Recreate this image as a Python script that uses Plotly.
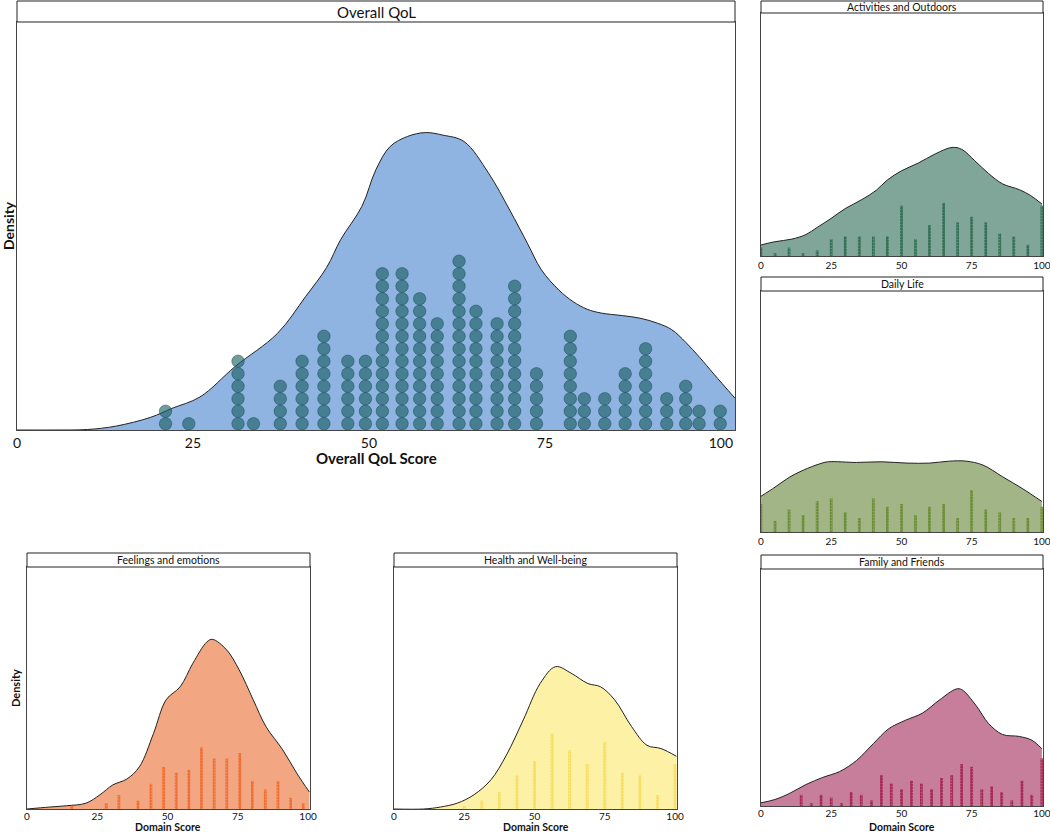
import plotly.graph_objects as go

W, H = 1050, 832
FONT = "Lato"

# ---------------- Overall QoL (big panel) ----------------
# kde outline
qol_x = [0, 5, 10, 14, 19, 22, 26, 31, 37, 41, 44, 46, 49, 51, 53, 55.5, 58, 60.5,
         63.5, 67, 70, 72.5, 74.5, 77, 79, 81, 83, 86, 88.5, 91, 93, 95, 97, 99, 102]
qol_density = [0, 0, 0.00004, 0.0003, 0.0010, 0.0017, 0.0026, 0.0050, 0.0076, 0.0105,
               0.0128, 0.0150, 0.0176, 0.0205, 0.0223, 0.0231, 0.0234, 0.0232, 0.0227,
               0.0202, 0.0173, 0.0147, 0.0126, 0.0110, 0.0101, 0.0095, 0.0092, 0.0090,
               0.0088, 0.0084, 0.0079, 0.0069, 0.0057, 0.0044, 0.0025]
# dot plot columns (score, number of children)
qol_scores = [21.1, 24.4, 31.4, 33.6, 37.4, 40.5, 43.6, 47.0, 49.5, 51.9, 54.7, 57.2, 59.7,
              62.8, 65.2, 68.2, 70.7, 73.8, 78.6, 80.6, 83.5, 86.4, 89.3, 92.3, 95.0, 96.9, 99.9]
qol_counts = [2, 1, 6, 1, 4, 6, 8, 6, 6, 13, 13, 11, 9, 14, 10, 9, 12, 5, 8, 3, 3, 5, 7, 3, 4, 2, 2]

# ---------------- domain panels ----------------
act_x = [0, 5, 11, 16, 20, 25, 30, 36, 41, 45, 50, 56, 62, 68, 71.5, 76, 81, 86, 92, 96, 100]
act_density = [0.0017, 0.0022, 0.0026, 0.0033, 0.0044, 0.0058, 0.0073, 0.0087, 0.0101, 0.0117,
               0.0131, 0.0143, 0.0157, 0.0167, 0.0164, 0.0147, 0.0127, 0.0111, 0.0102, 0.0093, 0.0080]
act_scores = [0, 5, 10, 15, 20, 25, 30, 35, 40, 45, 50, 55, 60, 65, 70, 75, 80, 85, 90, 95, 100]
act_counts = [3, 1, 3, 1, 2, 6, 7, 7, 7, 7, 18, 6, 11, 19, 12, 14, 12, 8, 7, 4, 18]

daily_x = [0, 5, 10, 15, 21, 24, 34, 43, 52, 60, 67, 73, 79, 86, 93, 100]
daily_density = [0.0055, 0.0069, 0.0084, 0.0095, 0.0105, 0.0108, 0.0107, 0.0108, 0.0106,
                 0.0106, 0.0109, 0.0109, 0.0103, 0.0085, 0.0067, 0.0047]
daily_scores = [0, 5, 10, 15, 20, 25, 30, 35, 40, 45, 50, 55, 60, 65, 70, 75, 80, 85, 90, 95, 100]
daily_counts = [10, 4, 8, 6, 11, 12, 7, 5, 12, 9, 10, 6, 9, 10, 5, 15, 8, 7, 5, 5, 9]

fam_x = [0, 5, 10, 16, 22, 28, 34, 40, 45.5, 51.5, 57.5, 63.5, 69.5, 71.5, 76.5, 81, 86, 92, 96.5, 100]
fam_density = [0.0005, 0.0010, 0.0019, 0.0033, 0.0044, 0.0053, 0.0070, 0.0096, 0.0119, 0.0132,
               0.0143, 0.0163, 0.0180, 0.0179, 0.0155, 0.0127, 0.0110, 0.0107, 0.0101, 0.0088]
fam_scores = [14.3, 17.9, 21.4, 25.0, 28.6, 32.1, 35.7, 39.3, 42.9, 46.4, 50.0, 53.6, 57.1,
              60.7, 64.3, 67.9, 71.4, 75.0, 78.6, 82.1, 85.7, 89.3, 92.9, 96.4, 100.0]
fam_counts = [4, 1, 4, 3, 1, 5, 4, 2, 11, 8, 6, 9, 8, 6, 10, 11, 15, 14, 6, 7, 5, 2, 9, 4, 17]

feel_x = [0, 8, 14, 21, 26, 30.5, 35.5, 40, 45, 49.5, 54.5, 59, 64, 66, 71, 75.5, 80.5, 85, 91, 96, 100.5]
feel_density = [0, 0.0003, 0.0005, 0.0009, 0.0022, 0.0037, 0.0046, 0.0065, 0.0116, 0.0168, 0.0188,
                0.0224, 0.0257, 0.0261, 0.0245, 0.0214, 0.0168, 0.0127, 0.0091, 0.0055, 0.0026]
feel_scores = [15.9, 28.2, 32.7, 39.5, 44.1, 48.6, 53.1, 57.6, 62.1, 66.6, 71.1, 75.7,
               80.2, 84.8, 89.3, 93.8, 98.3]
feel_counts = [1, 2, 5, 3, 9, 15, 13, 14, 22, 18, 18, 20, 10, 7, 10, 4, 2]

health_x = [0, 10.5, 16.5, 22.5, 28.5, 34.5, 40, 46, 52, 57.5, 63, 69, 73.5, 78.5, 84.5, 90, 95, 100.5]
health_density = [0, 0, 0.0003, 0.0009, 0.0022, 0.0045, 0.0083, 0.0137, 0.0193, 0.0219, 0.0209,
                  0.0193, 0.0188, 0.0168, 0.0127, 0.0098, 0.0093, 0.0081]
health_scores = [25, 31.25, 37.5, 43.75, 50, 56.25, 62.5, 68.75, 75, 81.25, 87.5, 93.75, 100]
health_counts = [1, 3, 6, 12, 17, 27, 21, 16, 24, 13, 12, 5, 16]

tick_vals = [0, 25, 50, 75, 100]

# panel boxes in pixels: plot area (x0, y0, x1, y1), title strip top
panels = [
    dict(title="Overall QoL", box=(17, 22, 735, 430), strip=1, xr=102),
    dict(title="Activities and Outdoors", box=(761, 13, 1043, 256), strip=1, xr=100.4,
         x=act_x, d=act_density, s=act_scores, n=act_counts, fill="#80A699", bar="#2C6B52"),
    dict(title="Daily Life", box=(761, 291, 1043, 532), strip=277, xr=100.4,
         x=daily_x, d=daily_density, s=daily_scores, n=daily_counts, fill="#A2B586", bar="#688A2F"),
    dict(title="Family and Friends", box=(761, 569, 1043, 806), strip=555, xr=100.4, low=True,
         x=fam_x, d=fam_density, s=fam_scores, n=fam_counts, fill="#C67E9A", bar="#A5204F"),
    dict(title="Feelings and emotions", box=(27, 567, 310, 809), strip=553, xr=100.7, low=True,
         x=feel_x, d=feel_density, s=feel_scores, n=feel_counts, fill="#F3A682", bar="#F06A2B"),
    dict(title="Health and Well-being", box=(394, 567, 677, 809), strip=553, xr=100.7, low=True,
         x=health_x, d=health_density, s=health_scores, n=health_counts, fill="#FCF1A5", bar="#F8DC5A"),
]

fig = go.Figure()
layout = {}
shapes = []
annotations = []

for p, pan in enumerate(panels):
    x0, y0, x1, y1 = pan["box"]
    xa = "x" if p == 0 else "x%d" % (p + 1)
    yd = "y%d" % (2 * p + 1) if p else "y"
    yc = "y%d" % (2 * p + 2)
    plot_h = y1 - y0
    big = p == 0
    layout["xaxis" if p == 0 else "xaxis%d" % (p + 1)] = dict(
        domain=[x0 / W, x1 / W], anchor=yd, range=[0, pan["xr"]],
        automargin=False, ticklabeloverflow="allow",
        ticklabelstandoff=-2 if pan.get("low") else 0,
        tickvals=tick_vals, ticks="", showgrid=False, zeroline=False,
        showline=True, mirror=True, linecolor="#444", linewidth=1,
        tickfont=dict(family=FONT, size=14 if big else 10, color="#111"))
    layout["yaxis" if p == 0 else "yaxis%d" % (2 * p + 1)] = dict(
        domain=[1 - y1 / H, 1 - y0 / H], anchor=xa, automargin=False,
        range=[0, (0.0321 if big else plot_h / 6500)],
        showticklabels=False, ticks="", showgrid=False, zeroline=False,
        showline=True, mirror=True, linecolor="#444", linewidth=1)
    layout["yaxis%d" % (2 * p + 2)] = dict(
        overlaying=yd, anchor=xa, visible=False, automargin=False,
        range=[0, plot_h / 12.5 if big else plot_h / 2.8])

    # title strip
    st = pan["strip"]
    sb = y0
    shapes.append(dict(type="rect", xref="paper", yref="paper",
                       x0=x0 / W, x1=x1 / W, y0=1 - sb / H, y1=1 - st / H,
                       line=dict(color="#222", width=1), fillcolor="white"))
    annotations.append(dict(text=pan["title"], xref="paper", yref="paper",
                            x=(x0 + x1) / 2 / W, y=1 - (st + sb) / 2 / H,
                            showarrow=False, xanchor="center", yanchor="middle",
                            font=dict(family=FONT, size=15 if big else 10.5, color="#111")))

    if big:
        fig.add_trace(go.Scatter(x=qol_x, y=qol_density, xaxis=xa, yaxis=yd,
                                 mode="lines", line=dict(color="#222", width=1, shape="spline"),
                                 fill="tozeroy", fillcolor="#8FB4E2", hoverinfo="skip"))
        dot_x, dot_y = [], []
        for sc, cnt in zip(qol_scores, qol_counts):
            for k in range(cnt):
                dot_x.append(sc)
                dot_y.append(k + 0.5)
        fig.add_trace(go.Scatter(x=dot_x, y=dot_y, xaxis=xa, yaxis=yc, mode="markers",
                                 marker=dict(size=12.5, color="rgba(25,95,95,0.62)",
                                             line=dict(color="rgba(15,60,70,0.5)", width=0.8))))
    else:
        fig.add_trace(go.Scatter(x=pan["x"], y=pan["d"], xaxis=xa, yaxis=yd,
                                 mode="lines", line=dict(color="#222", width=1, shape="spline"),
                                 fill="tozeroy", fillcolor=pan["fill"], hoverinfo="skip"))
        fig.add_trace(go.Bar(x=pan["s"], y=pan["n"], xaxis=xa, yaxis=yc, width=1.0,
                             marker=dict(color=pan["bar"], line=dict(width=0),
                                         pattern=dict(shape=".", size=3, solidity=0.25,
                                                      fgcolor=pan["fill"], fgopacity=0.6)),
                             opacity=0.9))

# axis titles
annotations += [
    dict(text="<b>Density</b>", x=8 / W, y=1 - 226 / H, textangle=-90,
         font=dict(family=FONT, size=14, color="#111")),
    dict(text="<b>Overall QoL Score</b>", x=376 / W, y=1 - 458 / H,
         font=dict(family=FONT, size=15, color="#111")),
    dict(text="<b>Density</b>", x=15 / W, y=1 - 688 / H, textangle=-90,
         font=dict(family=FONT, size=11, color="#111")),
    dict(text="<b>Domain Score</b>", x=168 / W, y=1 - 827 / H,
         font=dict(family=FONT, size=10.5, color="#111")),
    dict(text="<b>Domain Score</b>", x=536 / W, y=1 - 827 / H,
         font=dict(family=FONT, size=10.5, color="#111")),
    dict(text="<b>Domain Score</b>", x=902 / W, y=1 - 827 / H,
         font=dict(family=FONT, size=10.5, color="#111")),
]
for a in annotations[-6:]:
    a.update(xref="paper", yref="paper", showarrow=False, xanchor="center", yanchor="middle")

fig.update_layout(
    width=W, height=H, margin=dict(l=0, r=0, t=0, b=0, autoexpand=False),
    paper_bgcolor="white", plot_bgcolor="white",
    showlegend=False, barmode="overlay",
    shapes=shapes, annotations=annotations,
    **layout,
)

# keep the fixed-size figure flush with the 1050x832 window (no body margin, no scrollbar)
fix_page = (
    "document.body.style.margin='0';"
    "document.body.style.overflow='hidden';"
)
fig.write_html("out.html", post_script=fix_page, config={"displayModeBar": False})
